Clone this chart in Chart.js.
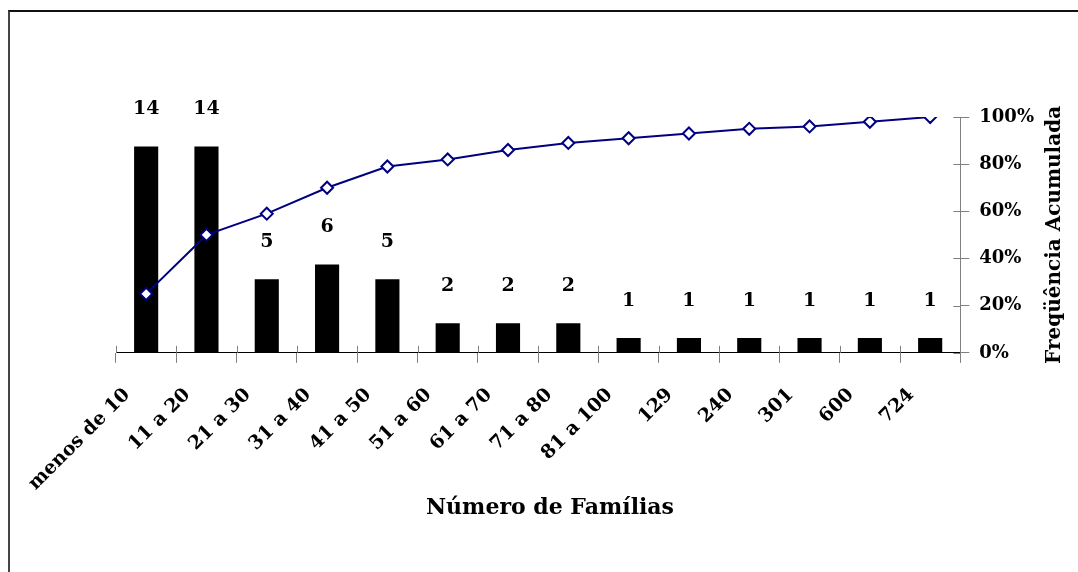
<!DOCTYPE html>
<html>
<head>
<meta charset="utf-8">
<script src="https://cdn.jsdelivr.net/npm/chart.js@4.4.0/dist/chart.umd.min.js"></script>
<style>
  html, body { margin: 0; padding: 0; background: #fff; }
  #wrap { position: relative; width: 1078px; height: 572px; }
  #frame {
    position: absolute; left: 8px; top: 10px; right: 0; bottom: 0;
    border-top: 2px solid #111; border-left: 2px solid #444;
    pointer-events: none;
  }
</style>
</head>
<body>
<div id="wrap">
  <canvas id="grafico" width="1078" height="572"></canvas>
  <div id="frame"></div>
</div>
<script>
// dados
const categorias = ['menos de 10', '11 a 20', '21 a 30', '31 a 40', '41 a 50', '51 a 60', '61 a 70',
                    '71 a 80', '81 a 100', '129', '240', '301', '600', '724'];
const frequencias = [14, 14, 5, 6, 5, 2, 2, 2, 1, 1, 1, 1, 1, 1];
const acumulada = [25, 50, 59, 70, 79, 82, 86, 89, 91, 93, 95, 96, 98, 100];
const ticksPct = [0, 20, 40, 60, 80, 100];

const fonte = 'DejaVu Serif';

// rotulos em cima das barras
const rotulosBarras = {
    id: 'rotulosBarras',
    afterDatasetsDraw(chart) {
        const ctx = chart.ctx;
        const meta = chart.getDatasetMeta(0);
        ctx.save();
        ctx.font = 'bold 19px "' + fonte + '"';
        ctx.fillStyle = '#000';
        ctx.textAlign = 'center';
        ctx.textBaseline = 'middle';
        meta.data.forEach((bar, i) => {
            ctx.fillText(String(frequencias[i]), bar.x, bar.y - 37);
        });
        ctx.restore();
    }
};

// tracinhos cruzando os eixos + titulos dos eixos
const extras = {
    id: 'extras',
    afterDraw(chart) {
        const ctx = chart.ctx;
        const x = chart.scales.x;
        const y1 = chart.scales.y1;
        ctx.save();
        ctx.strokeStyle = '#808080';
        ctx.lineWidth = 1;
        const n = categorias.length;
        const w = (x.right - x.left) / n;
        for (let i = 0; i <= n; i++) {
            const px = Math.round(x.left + i * w) + 0.5;
            ctx.beginPath();
            ctx.moveTo(px, x.top - 7);
            ctx.lineTo(px, x.top);
            ctx.stroke();
        }
        ticksPct.forEach(v => {
            const py = Math.round(y1.getPixelForValue(v)) + 0.5;
            ctx.beginPath();
            ctx.moveTo(y1.left - 7, py);
            ctx.lineTo(y1.left, py);
            ctx.stroke();
        });
        ctx.fillStyle = '#000';
        ctx.textAlign = 'center';
        ctx.textBaseline = 'middle';
        ctx.font = 'bold 22px "' + fonte + '"';
        ctx.fillText('Número de Famílias', 550, 508);
        ctx.translate(1055, (y1.top + y1.bottom) / 2);
        ctx.rotate(-Math.PI / 2);
        ctx.font = 'bold 20px "' + fonte + '"';
        ctx.fillText('Freqüência Acumulada', 0, 0);
        ctx.restore();
    }
};

new Chart(document.getElementById('grafico').getContext('2d'), {
    data: {
        labels: categorias,
        datasets: [{
            type: 'bar',
            label: 'Frequência',
            data: frequencias,
            backgroundColor: '#000',
            borderWidth: 0,
            barPercentage: 0.4,
            categoryPercentage: 1,
            yAxisID: 'y',
            order: 2
        }, {
            type: 'line',
            label: 'Freqüência Acumulada',
            data: acumulada,
            borderColor: '#000080',
            borderWidth: 2,
            pointStyle: 'rectRot',
            pointRadius: 6,
            pointBackgroundColor: '#fff',
            pointBorderColor: '#000080',
            pointBorderWidth: 2,
            tension: 0,
            yAxisID: 'y1',
            order: 1
        }]
    },
    options: {
        responsive: false,
        animation: false,
        layout: {
            padding: { left: 116, top: 117, right: 34, bottom: 56 }
        },
        plugins: {
            legend: { display: false },
            tooltip: { enabled: false }
        },
        scales: {
            x: {
                offset: true,
                grid: {
                    display: true,
                    drawOnChartArea: false,
                    offset: true,
                    tickLength: 10,
                    tickColor: '#808080'
                },
                border: { display: true, color: '#000', width: 1 },
                ticks: {
                    minRotation: 45,
                    maxRotation: 45,
                    autoSkip: false,
                    labelOffset: -19,
                    padding: 21,
                    color: '#000',
                    font: { family: fonte, size: 19, weight: 'bold' }
                }
            },
            y: {
                display: false,
                min: 0,
                max: 16
            },
            y1: {
                position: 'right',
                min: 0,
                max: 100,
                afterBuildTicks(scale) {
                    scale.ticks = ticksPct.map(v => ({ value: v }));
                },
                grid: {
                    drawOnChartArea: false,
                    tickLength: 9,
                    tickColor: '#808080'
                },
                border: { display: true, color: '#808080', width: 1 },
                ticks: {
                    padding: 10,
                    color: '#000',
                    callback: v => v + '%',
                    font: { family: fonte, size: 18, weight: 'bold' }
                }
            }
        }
    },
    plugins: [rotulosBarras, extras]
});
</script>
</body>
</html>
